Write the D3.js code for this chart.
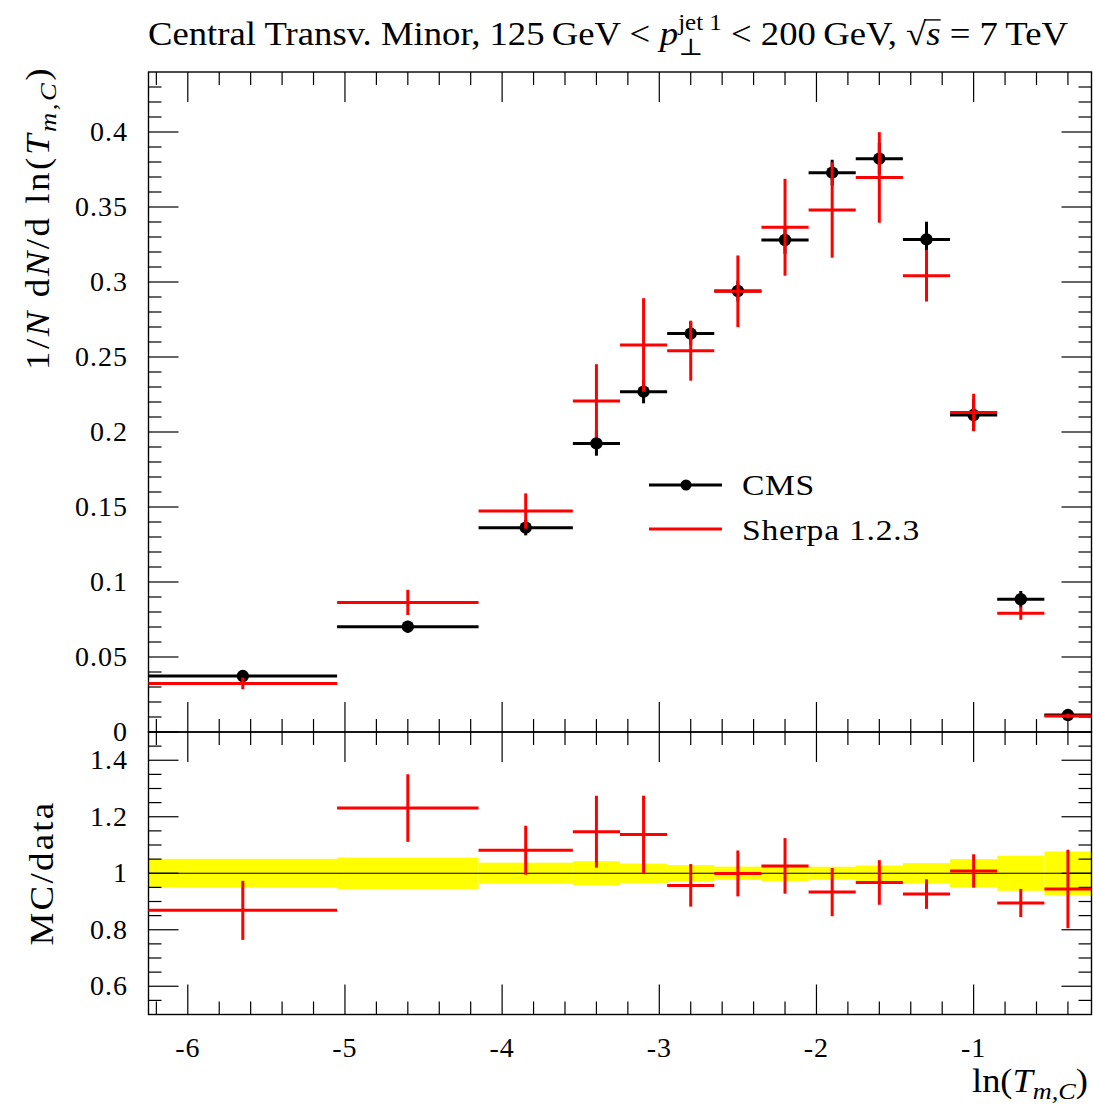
<!DOCTYPE html>
<html>
<head>
<meta charset="utf-8">
<script src="https://cdn.jsdelivr.net/npm/d3@7"></script>
<style>
  body { margin: 0; background: #fff; }
  svg { display: block; }
  text { font-family: "Liberation Serif", "DejaVu Serif", serif; fill: #000; white-space: pre; }
</style>
</head>
<body>
<svg id="chart" width="1093" height="1104"></svg>
<script>
// Bin edges in ln(T_m,C)
const binEdges = [-6.25, -5.05, -4.15, -3.55, -3.25, -2.95, -2.65, -2.35, -2.05, -1.75, -1.45, -1.15, -0.85, -0.55, -0.25];

// CMS measurement: 1/N dN/d ln(T_m,C) and its uncertainty
const cmsValues = [0.0373, 0.0702, 0.1362, 0.1924, 0.2269, 0.2656, 0.2940, 0.3280, 0.3729, 0.3822, 0.3284, 0.2113, 0.0885, 0.0113];
const cmsErrors = [0.0019, 0.0039, 0.0051, 0.0082, 0.0078, 0.0077, 0.0069, 0.0092, 0.0086, 0.0105, 0.0118, 0.0106, 0.0055, 0.00087];

// Sherpa 1.2.3 prediction and its statistical uncertainty
const sherpaValues = [0.0324, 0.0864, 0.1473, 0.2207, 0.2580, 0.2542, 0.2938, 0.3365, 0.3480, 0.3697, 0.3042, 0.2130, 0.0792, 0.01067];
const sherpaErrors = [0.0039, 0.0084, 0.0118, 0.0245, 0.0312, 0.0200, 0.0239, 0.0323, 0.0318, 0.0302, 0.0172, 0.0125, 0.0044, 0.00157];

// Axis ticks and labels
const xMajorTicks = [-6, -5, -4, -3, -2, -1];
const xTickLabels = ["-6", "-5", "-4", "-3", "-2", "-1"];
const yMainTicks = [0, 0.05, 0.1, 0.15, 0.2, 0.25, 0.3, 0.35, 0.4];
const yMainLabels = ["0", "0.05", "0.1", "0.15", "0.2", "0.25", "0.3", "0.35", "0.4"];
const yRatioTicks = [0.6, 0.8, 1, 1.2, 1.4];
const yRatioLabels = ["0.6", "0.8", "1", "1.2", "1.4"];

const FONT = "'Liberation Serif', 'DejaVu Serif', serif";
const svg = d3.select("#chart");

// Panel geometry
const left = 148.5, right = 1091.5;
const mainTop = 72, mainBottom = 732, ratioBottom = 1014.5;

const x = d3.scaleLinear().domain([-6.25, -0.25]).range([left, right]);
const y = d3.scaleLinear().domain([0, 0.44]).range([mainBottom, mainTop]);
const yr = d3.scaleLinear().domain([0.5, 1.5]).range([ratioBottom, mainBottom]);

const bins = cmsValues.map((v, i) => ({
  lo: binEdges[i], hi: binEdges[i + 1], mid: (binEdges[i] + binEdges[i + 1]) / 2,
  cms: v, cmsErr: cmsErrors[i],
  mc: sherpaValues[i], mcErr: sherpaErrors[i],
  ratio: sherpaValues[i] / v, ratioErr: sherpaErrors[i] / v, band: cmsErrors[i] / v
}));

const RED = "#ff0000";

// ---------- inline math-like text layout ----------
// pieces: {t, it (italic), s (size factor), dy (baseline shift in em), stack (share x with previous), over (overline)}
// With a target width the expression is widened (a modest horizontal stretch, then letter spacing) to span it.
function mathText(parent, pieces, size, anchor, target, maxStretch = 1.12) {
  const outer = parent.append("g");
  const g = outer.append("g");
  function layout(ls) {
    g.selectAll("*").remove();
    let cursor = 0, prevStart = 0;
    pieces.forEach(p => {
      const fs = size * (p.s || 1);
      const startX = p.stack ? prevStart : cursor;
      const t = g.append("text")
        .attr("x", startX)
        .attr("y", (p.dy || 0) * size)
        .attr("font-family", FONT)
        .style("font-size", fs + "px")
        .style("font-style", p.it ? "italic" : "normal")
        .style("letter-spacing", ls + "px")
        .text(p.t);
      const w = t.node().getComputedTextLength();
      if (p.over) {
        g.append("line").attr("x1", startX - 2).attr("x2", startX + w)
          .attr("y1", -size * 0.76).attr("y2", -size * 0.76)
          .attr("stroke", "#000").attr("stroke-width", 1.4);
      }
      if (p.stack) cursor = Math.max(cursor, startX + w);
      else { prevStart = startX; cursor = startX + w; }
    });
    return cursor;
  }
  let total = layout(0);
  let sx = 1;
  if (target) {
    sx = Math.min(target / total, maxStretch);
    const n = d3.sum(pieces.filter(p => !p.stack), p => p.t.length);
    const extra = target / sx - total;
    if (extra > 0.5) total = layout(extra / n);
  }
  const shift = anchor === "end" ? -total : anchor === "middle" ? -total / 2 : 0;
  g.attr("transform", `translate(${shift},0)`);
  outer.attr("transform", `scale(${sx},1)`);
  return outer;
}

// ---------- ratio band (data uncertainty) ----------
svg.append("g").selectAll("rect").data(bins).join("rect")
  .attr("x", d => x(d.lo))
  .attr("width", d => x(d.hi) - x(d.lo))
  .attr("y", d => yr(1 + d.band))
  .attr("height", d => yr(1 - d.band) - yr(1 + d.band))
  .attr("fill", "#ffff00");

svg.append("line")
  .attr("x1", left).attr("x2", right).attr("y1", yr(1)).attr("y2", yr(1))
  .attr("stroke", "#000").attr("stroke-width", 1.1);

// ---------- frames and ticks ----------
const frame = svg.append("g").attr("stroke", "#000").attr("fill", "none");
frame.append("rect").attr("x", left).attr("y", mainTop).attr("width", right - left).attr("height", mainBottom - mainTop).attr("stroke-width", 1.4);
frame.append("rect").attr("x", left).attr("y", mainBottom).attr("width", right - left).attr("height", ratioBottom - mainBottom).attr("stroke-width", 1.4);

const ticks = svg.append("g").attr("stroke", "#000").attr("stroke-width", 1.2);
const MAJ = 30, MIN = 13;
const xMinor = d3.range(-31, -1).map(k => k / 5).filter(v => !xMajorTicks.some(m => Math.abs(m - v) < 1e-6));

function xTicksAt(yy, dir) {
  xMajorTicks.forEach(v => ticks.append("line").attr("x1", x(v)).attr("x2", x(v)).attr("y1", yy).attr("y2", yy + dir * MAJ));
  xMinor.forEach(v => ticks.append("line").attr("x1", x(v)).attr("x2", x(v)).attr("y1", yy).attr("y2", yy + dir * MIN));
}
xTicksAt(mainTop, 1);
xTicksAt(mainBottom, -1);
xTicksAt(mainBottom, 1);
xTicksAt(ratioBottom, -1);

function yTicks(scale, majors, minorStep, lo, hi) {
  const minors = d3.range(Math.round(lo / minorStep), Math.round(hi / minorStep) + 1).map(k => +(k * minorStep).toFixed(4))
    .filter(v => !majors.some(m => Math.abs(m - v) < 1e-6));
  [[left, 1], [right, -1]].forEach(([xx, dir]) => {
    majors.forEach(v => ticks.append("line").attr("x1", xx).attr("x2", xx + dir * MAJ).attr("y1", scale(v)).attr("y2", scale(v)));
    minors.forEach(v => ticks.append("line").attr("x1", xx).attr("x2", xx + dir * MIN).attr("y1", scale(v)).attr("y2", scale(v)));
  });
}
yTicks(y, yMainTicks, 0.01, 0.01, 0.43);
yTicks(yr, [0.6, 0.8, 1.0, 1.2, 1.4], 0.05, 0.55, 1.45);

// ---------- tick labels ----------
const TICK_FS = 28;
function tickText(sel) {
  return sel.attr("font-family", FONT).style("font-size", TICK_FS + "px").style("letter-spacing", "1px");
}
tickText(svg.append("g").selectAll("text").data(yMainTicks).join("text"))
  .attr("x", 128).attr("y", d => y(d)).attr("dy", "0.33em")
  .attr("text-anchor", "end")
  .text((d, i) => yMainLabels[i]);
tickText(svg.append("g").selectAll("text").data(yRatioTicks).join("text"))
  .attr("x", 128).attr("y", d => yr(d)).attr("dy", "0.33em")
  .attr("text-anchor", "end")
  .text((d, i) => yRatioLabels[i]);
tickText(svg.append("g").selectAll("text").data(xMajorTicks).join("text"))
  .attr("x", d => x(d)).attr("y", 1057)
  .attr("text-anchor", "middle")
  .text((d, i) => xTickLabels[i]);

// ---------- main panel: CMS data ----------
const cmsG = svg.append("g").attr("stroke", "#000").attr("stroke-width", 3);
cmsG.selectAll("line.h").data(bins).join("line").attr("class", "h")
  .attr("x1", d => x(d.lo)).attr("x2", d => x(d.hi)).attr("y1", d => y(d.cms)).attr("y2", d => y(d.cms));
cmsG.selectAll("line.v").data(bins).join("line").attr("class", "v")
  .attr("x1", d => x(d.mid)).attr("x2", d => x(d.mid)).attr("y1", d => y(d.cms - d.cmsErr)).attr("y2", d => y(d.cms + d.cmsErr));
svg.append("g").selectAll("circle").data(bins).join("circle")
  .attr("cx", d => x(d.mid)).attr("cy", d => y(d.cms)).attr("r", 6.2).attr("fill", "#000");

// ---------- main panel: Sherpa ----------
const mcG = svg.append("g").attr("stroke", RED).attr("stroke-width", 3);
mcG.selectAll("line.h").data(bins).join("line").attr("class", "h")
  .attr("x1", d => x(d.lo)).attr("x2", d => x(d.hi)).attr("y1", d => y(d.mc)).attr("y2", d => y(d.mc));
mcG.selectAll("line.v").data(bins).join("line").attr("class", "v")
  .attr("x1", d => x(d.mid)).attr("x2", d => x(d.mid)).attr("y1", d => y(d.mc - d.mcErr)).attr("y2", d => y(d.mc + d.mcErr));

// ---------- ratio panel: Sherpa / CMS ----------
const rG = svg.append("g").attr("stroke", RED).attr("stroke-width", 3);
rG.selectAll("line.h").data(bins).join("line").attr("class", "h")
  .attr("x1", d => x(d.lo)).attr("x2", d => x(d.hi)).attr("y1", d => yr(d.ratio)).attr("y2", d => yr(d.ratio));
rG.selectAll("line.v").data(bins).join("line").attr("class", "v")
  .attr("x1", d => x(d.mid)).attr("x2", d => x(d.mid)).attr("y1", d => yr(d.ratio - d.ratioErr)).attr("y2", d => yr(d.ratio + d.ratioErr));

// ---------- legend ----------
const leg = svg.append("g");
leg.append("line").attr("x1", 649).attr("x2", 722).attr("y1", 485).attr("y2", 485).attr("stroke", "#000").attr("stroke-width", 3);
leg.append("circle").attr("cx", 686).attr("cy", 485).attr("r", 5.5).attr("fill", "#000");
leg.append("line").attr("x1", 649).attr("x2", 722).attr("y1", 529).attr("y2", 529).attr("stroke", RED).attr("stroke-width", 3);
mathText(leg.append("g").attr("transform", "translate(742,495)"), [{ t: "CMS" }], 30, "start", 73);
mathText(leg.append("g").attr("transform", "translate(742,540)"), [{ t: "Sherpa 1.2.3" }], 30, "start", 178);

// ---------- title ----------
const title = svg.append("g").attr("transform", "translate(148,45)");
mathText(title, [
  { t: "Central Transv. Minor, 125\u2009GeV < " },
  { t: "p", it: true },
  { t: "jet 1", s: 0.68, dy: -0.45 },
  { t: "\u22A5", s: 0.72, dy: 0.3, stack: true },
  { t: " < 200\u2009GeV, \u221A" },
  { t: "s", it: true, over: true },
  { t: " = 7\u2009TeV" }
], 33, "start", 920);

// ---------- axis labels ----------
const yLab = svg.append("g").attr("transform", "translate(49,66) rotate(-90)");
mathText(yLab, [
  { t: "1/" }, { t: "N", it: true }, { t: " d" }, { t: "N", it: true }, { t: "/d ln(" },
  { t: "T", it: true }, { t: "m,C", it: true, s: 0.72, dy: 0.22 }, { t: ")" }
], 33, "end", 304);

const rLab = svg.append("g").attr("transform", "translate(53,873) rotate(-90)");
mathText(rLab, [{ t: "MC/data" }], 33, "middle", 145);

const xLab = svg.append("g").attr("transform", "translate(1088,1092)");
mathText(xLab, [
  { t: "ln(" }, { t: "T", it: true }, { t: "m,C", it: true, s: 0.72, dy: 0.22 }, { t: ")" }
], 33, "end", 116);
</script>
</body>
</html>
